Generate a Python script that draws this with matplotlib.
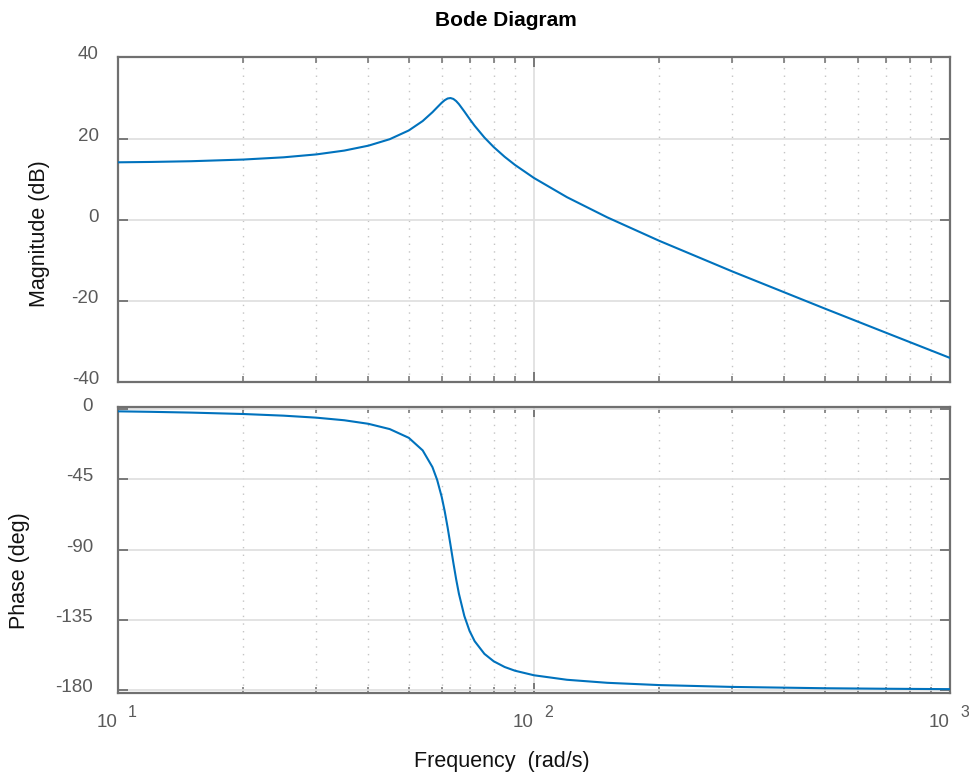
import numpy as np
import matplotlib
matplotlib.use("Agg")
import matplotlib.pyplot as plt
from matplotlib.ticker import LogLocator, NullFormatter, FixedLocator

plt.rcParams['font.family'] = ['Liberation Sans', 'DejaVu Sans']
plt.rcParams['axes.unicode_minus'] = False

# values
freq = [10, 12, 15, 20, 25, 30, 35, 40, 45, 50, 54, 57, 58.5, 60, 61, 62, 63,
        64, 65, 66, 68, 70, 72, 76, 80, 85, 90, 100, 120, 150, 200, 300, 500,
        700, 1000]
mag_db = [14.20, 14.29, 14.47, 14.88, 15.43, 16.15, 17.09, 18.30, 19.89, 22.04,
          24.36, 26.53, 27.72, 28.86, 29.49, 29.91, 30.02, 29.80, 29.27, 28.52,
          26.72, 24.88, 23.19, 20.30, 17.96, 15.56, 13.56, 10.34, 5.62, 0.65,
          -5.12, -12.68, -21.80, -27.71, -33.95]
phase_deg = [-1.47, -1.78, -2.28, -3.18, -4.24, -5.53, -7.19, -9.46, -12.84,
             -18.43, -26.48, -37.20, -45.36, -56.31, -65.42, -75.88, -87.18,
             -98.53, -109.09, -118.34, -132.54, -142.13, -148.70, -156.83,
             -161.57, -165.23, -167.62, -170.54, -173.42, -175.36, -176.82,
             -178.00, -178.84, -179.17, -179.42]

mag_ticks = [-40, -20, 0, 20, 40]
phase_ticks = [-180, -135, -90, -45, 0]
dec_ticks = [10, 100, 1000]
dec_exp = ['1', '2', '3']

W, H = 970, 778
fig = plt.figure(figsize=(W / 100, H / 100), dpi=100)

def fx(px):
    return px / W

def fy(py):
    return 1 - py / H

ax1 = fig.add_axes([fx(118), fy(382.5), fx(950 - 118), (382.5 - 57.5) / H])
ax2 = fig.add_axes([fx(118), fy(692.7), fx(950 - 118), (692.7 - 406.7) / H])

spine_c = '#707070'
tick_c = '#5a5a5a'
line_c = '#0072BD'

for ax in (ax1, ax2):
    ax.set_xscale('log')
    ax.set_xlim(10, 1000)
    ax.xaxis.set_major_locator(FixedLocator(dec_ticks))
    ax.xaxis.set_minor_locator(LogLocator(base=10, subs=np.arange(2, 10), numticks=20))
    ax.xaxis.set_major_formatter(NullFormatter())
    ax.xaxis.set_minor_formatter(NullFormatter())
    for s in ax.spines.values():
        s.set_color(spine_c)
        s.set_linewidth(1.6)
    ax.tick_params(which='both', direction='in', top=True, right=True,
                   colors=spine_c, labelleft=False)
    ax.tick_params(which='major', length=7, width=1.3)
    ax.tick_params(which='minor', length=4, width=1.1)
    ax.grid(True, which='major', color='#e0e0e0', linewidth=1.3, zorder=0)
    ax.grid(True, which='minor', axis='x', color='#c4c4c4', linewidth=1.0,
            linestyle=(0, (1, 4.5)), zorder=0)
    ax.set_axisbelow(True)

ax1.plot(freq, mag_db, color=line_c, linewidth=1.5, zorder=3)
ax1.set_ylim(-40, 40)
ax1.set_yticks(mag_ticks)

ax2.plot(freq, phase_deg, color=line_c, linewidth=1.5, zorder=3)
ax2.set_ylim(-181.7, 1.5)
ax2.set_yticks(phase_ticks)

# y tick labels sit a little above their ticks, as in the reference
for ax, ticks, dx in ((ax1, mag_ticks, -19), (ax2, phase_ticks, -25)):
    for t in ticks:
        ax.annotate(str(t), xy=(0, t), xycoords=('axes fraction', 'data'),
                    xytext=(dx, 2.5), textcoords='offset pixels',
                    ha='right', va='center', fontsize=13.5, color=tick_c)

# x tick labels in the "10 ^n" style
for f, e in zip(dec_ticks, dec_exp):
    ax2.annotate('10', xy=(f, 0), xycoords=('data', 'axes fraction'),
                 xytext=(0, -30), textcoords='offset pixels',
                 ha='right', va='center', fontsize=13.5, color=tick_c)
    ax2.annotate(e, xy=(f, 0), xycoords=('data', 'axes fraction'),
                 xytext=(10, -20), textcoords='offset pixels',
                 ha='left', va='center', fontsize=11.5, color=tick_c)

fig.text(fx(506), fy(20), 'Bode Diagram', ha='center', va='center',
         fontsize=15, fontweight='bold', color='#000000')
fig.text(fx(502), fy(761), 'Frequency  (rad/s)', ha='center', va='center',
         fontsize=15.5, color='#111111')
fig.text(fx(40), fy(234), 'Magnitude (dB)', ha='center', va='center',
         rotation=90, fontsize=15.5, color='#111111')
fig.text(fx(20), fy(571), 'Phase (deg)', ha='center', va='center',
         rotation=90, fontsize=15.5, color='#111111')

fig.savefig('out.png', dpi=100)
